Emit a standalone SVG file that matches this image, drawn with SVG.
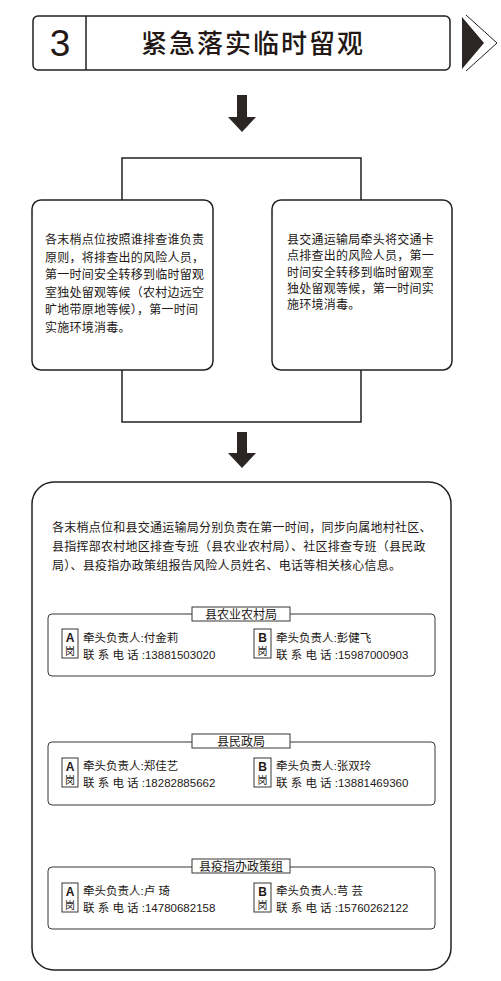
<svg xmlns="http://www.w3.org/2000/svg" width="501" height="981" viewBox="0 0 501 981">
<defs>
<style>
.t{font-family:"Liberation Sans","Noto Sans CJK SC",sans-serif;fill:#231815;}
.box{fill:#fff;stroke:#231f20;stroke-width:1.5;}
.sub{fill:#fff;stroke:#3a3535;stroke-width:1;}
.line{fill:none;stroke:#231f20;stroke-width:1.5;}
.arr{fill:#2b2523;}
.b{font-size:12px;letter-spacing:0.25px;}
.s{font-size:11.5px;}
</style>
</defs>
<rect width="501" height="981" fill="#fff"/>
<g id="header">
<rect x="33" y="16" width="417" height="54" rx="5" class="box"/>
<line x1="86" y1="16" x2="86" y2="70" class="line"/>
<text x="60" y="56" text-anchor="middle" class="t" font-size="37">3</text>
<text x="253" y="53" text-anchor="middle" class="t" font-size="26" font-weight="500" letter-spacing="2">紧急落实临时留观</text>
<polygon points="462,17 484,43 462,69" class="arr"/>
<polyline points="466,15 497,43 466,71" fill="none" stroke="#231f20" stroke-width="1"/>
</g>
<g id="connectors">
<polygon points="237,95 247,95 247,117 256,117 242,132 228,117 237,117" class="arr"/>
<polyline points="122,200 122,158 361,158 361,200" class="line"/>
<polyline points="122,370 122,422 361,422 361,370" class="line"/>
<polygon points="237,432 247,432 247,453 256,453 242,468 228,453 237,453" class="arr"/>
</g>
<g id="node-left">
<rect x="32" y="200" width="181" height="170" rx="9" class="box"/>
<text class="t b"><tspan x="45" y="244">各末梢点位按照谁排查谁负责</tspan><tspan x="45" y="261.5">原则，将排查出的风险人员，</tspan><tspan x="45" y="279">第一时间安全转移到临时留观</tspan><tspan x="45" y="296.5">室独处留观等候（农村边远空</tspan><tspan x="45" y="314">旷地带原地等候），第一时间</tspan><tspan x="45" y="331.5">实施环境消毒。</tspan></text>
</g>
<g id="node-right">
<rect x="272" y="200" width="180" height="170" rx="9" class="box"/>
<text class="t b"><tspan x="287" y="244">县交通运输局牵头将交通卡</tspan><tspan x="287" y="260.3">点排查出的风险人员，第一</tspan><tspan x="287" y="276.6">时间安全转移到临时留观室</tspan><tspan x="287" y="292.9">独处留观等候，第一时间实</tspan><tspan x="287" y="309.2">施环境消毒。</tspan></text>
</g>
<g id="node-report">
<rect x="32" y="482" width="419" height="488" rx="22" class="box"/>
<text class="t b" letter-spacing="0.45"><tspan x="52" y="532">各末梢点位和县交通运输局分别负责在第一时间，同步向属地村社区、</tspan><tspan x="52" y="551">县指挥部农村地区排查专班（县农业农村局）、社区排查专班（县民政</tspan><tspan x="52" y="570">局）、县疫指办政策组报告风险人员姓名、电话等相关核心信息。</tspan></text>
</g>
<g id="group-agri">
<rect x="48" y="614" width="387" height="62" rx="4" class="sub"/>
<rect x="192" y="607" width="98" height="14" class="sub"/>
<text x="241" y="618.5" text-anchor="middle" class="t" font-size="12">县农业农村局</text>
<rect x="62" y="629" width="16" height="29" class="sub"/>
<text x="70" y="642" text-anchor="middle" class="t" font-size="12" font-weight="bold">A</text>
<text x="70" y="655" text-anchor="middle" class="t" font-size="10">岗</text>
<text x="83" y="642" class="t s">牵头负责人:付金莉</text>
<text x="83" y="659" class="t s">联 系 电 话 :13881503020</text>
<rect x="254" y="629" width="17" height="29" class="sub"/>
<text x="262.5" y="642" text-anchor="middle" class="t" font-size="12" font-weight="bold">B</text>
<text x="262.5" y="655" text-anchor="middle" class="t" font-size="10">岗</text>
<text x="276" y="642" class="t s">牵头负责人:彭健飞</text>
<text x="276" y="659" class="t s">联 系 电 话 :15987000903</text>
</g>
<g id="group-civil">
<rect x="48" y="742" width="387" height="63" rx="4" class="sub"/>
<rect x="192" y="734" width="98" height="14" class="sub"/>
<text x="241" y="745.5" text-anchor="middle" class="t" font-size="12">县民政局</text>
<rect x="62" y="758" width="16" height="29" class="sub"/>
<text x="70" y="771" text-anchor="middle" class="t" font-size="12" font-weight="bold">A</text>
<text x="70" y="784" text-anchor="middle" class="t" font-size="10">岗</text>
<text x="83" y="770" class="t s">牵头负责人:郑佳艺</text>
<text x="83" y="787" class="t s">联 系 电 话 :18282885662</text>
<rect x="254" y="758" width="17" height="29" class="sub"/>
<text x="262.5" y="771" text-anchor="middle" class="t" font-size="12" font-weight="bold">B</text>
<text x="262.5" y="784" text-anchor="middle" class="t" font-size="10">岗</text>
<text x="276" y="770" class="t s">牵头负责人:张双玲</text>
<text x="276" y="787" class="t s">联 系 电 话 :13881469360</text>
</g>
<g id="group-policy">
<rect x="48" y="867" width="387" height="62" rx="4" class="sub"/>
<rect x="192" y="859" width="98" height="14" class="sub"/>
<text x="241" y="870.5" text-anchor="middle" class="t" font-size="12">县疫指办政策组</text>
<rect x="62" y="883" width="16" height="29" class="sub"/>
<text x="70" y="896" text-anchor="middle" class="t" font-size="12" font-weight="bold">A</text>
<text x="70" y="909" text-anchor="middle" class="t" font-size="10">岗</text>
<text x="83" y="895" class="t s">牵头负责人:卢 琦</text>
<text x="83" y="912" class="t s">联 系 电 话 :14780682158</text>
<rect x="254" y="883" width="17" height="29" class="sub"/>
<text x="262.5" y="896" text-anchor="middle" class="t" font-size="12" font-weight="bold">B</text>
<text x="262.5" y="909" text-anchor="middle" class="t" font-size="10">岗</text>
<text x="276" y="895" class="t s">牵头负责人:芎 芸</text>
<text x="276" y="912" class="t s">联 系 电 话 :15760262122</text>
</g>
</svg>
